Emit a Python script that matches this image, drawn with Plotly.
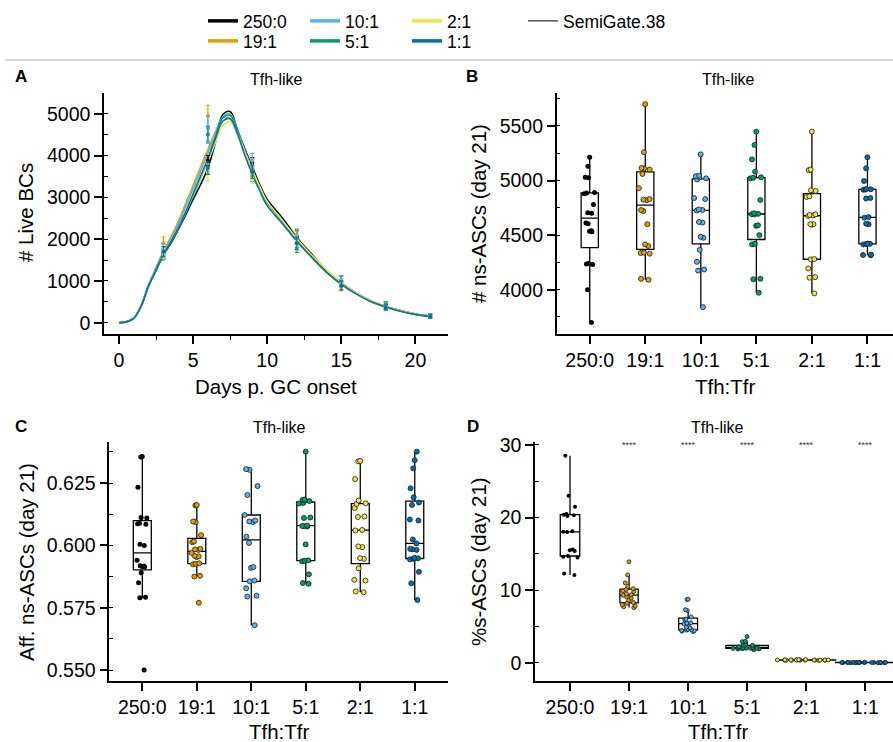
import plotly.graph_objects as go

W, H = 893, 742
FONT = "Liberation Sans, Arial, sans-serif"

# ---------------- data ----------------
conditions = ["250:0", "19:1", "10:1", "5:1", "2:1", "1:1"]
colors = ["#000000", "#E69F00", "#56B4E9", "#009E73", "#F0E442", "#0072B2"]

# Panel A: model curves (# live BCs vs days)
curve_days = [0, 0.5, 1, 1.5, 2, 2.5, 3, 3.5, 4, 4.5, 5, 5.5, 6, 6.5, 7, 7.5, 8, 8.5,
              9, 9.5, 10, 11, 12, 13, 14, 15, 16, 17, 18, 19, 20, 21]
curve_250_0 = [0, 20, 110, 400, 880, 1250, 1620, 1900, 2230, 2580, 2950, 3300, 3700, 4300, 4980, 5050,
               4600, 4150, 3720, 3300, 2950, 2520, 2040, 1640, 1250, 960, 710, 520, 390, 290, 210, 160]
curve_19_1 = [0, 20, 110, 420, 920, 1320, 1720, 2050, 2420, 2850, 3280, 3720, 4150, 4560, 4900, 4880,
              4500, 4050, 3620, 3220, 2880, 2420, 1960, 1560, 1200, 920, 690, 500, 370, 270, 200, 150]
curve_10_1 = [0, 20, 110, 410, 900, 1300, 1700, 2000, 2350, 2780, 3200, 3620, 4050, 4500, 4920, 5000,
              4600, 4100, 3650, 3250, 2880, 2440, 1990, 1590, 1230, 940, 700, 510, 380, 280, 205, 155]
curve_5_1 = [0, 20, 105, 400, 880, 1260, 1630, 1920, 2250, 2620, 3020, 3450, 3900, 4420, 4900, 4960,
             4580, 4100, 3650, 3240, 2880, 2450, 2000, 1610, 1250, 950, 710, 520, 385, 285, 205, 155]
curve_2_1 = [0, 20, 105, 400, 880, 1270, 1650, 1950, 2280, 2650, 3050, 3450, 3850, 4300, 4720, 4800,
             4520, 4080, 3650, 3250, 2900, 2460, 2010, 1620, 1260, 960, 715, 525, 390, 290, 210, 160]
curve_1_1 = [0, 20, 105, 400, 880, 1260, 1640, 1940, 2270, 2650, 3080, 3500, 3920, 4400, 4820, 4880,
             4520, 4000, 3550, 3150, 2800, 2380, 1950, 1570, 1210, 920, 690, 505, 375, 275, 200, 150]

# Panel A: experimental-like points (mean +/- sd)
obs_days = [3, 6, 9, 12, 15, 18, 21]
obs_mean_250_0 = [1650, 3880, 3820, 2050, 1000, 420, 170]
obs_sd_250_0 = [120, 120, 130, 150, 120, 80, 40]
obs_mean_19_1 = [1900, 4950, 3700, 2100, 950, 380, 150]
obs_sd_19_1 = [150, 250, 150, 150, 100, 60, 40]
obs_mean_10_1 = [1750, 4650, 3900, 2050, 1000, 420, 170]
obs_sd_10_1 = [130, 300, 150, 180, 120, 80, 40]
obs_mean_5_1 = [1600, 4500, 3500, 1800, 900, 380, 160]
obs_sd_5_1 = [100, 200, 120, 120, 100, 70, 40]
obs_mean_2_1 = [1650, 3600, 3450, 1850, 850, 350, 150]
obs_sd_2_1 = [120, 200, 120, 120, 100, 60, 40]
obs_mean_1_1 = [1700, 3700, 3600, 1900, 880, 360, 150]
obs_sd_1_1 = [120, 150, 150, 150, 100, 60, 40]

# Panel B: # ns-ASCs (day 21)
b_250_0 = [3700, 4000, 4230, 4235, 4240, 4530, 4535, 4540, 4605, 4610, 4700, 4705, 4780, 4880, 4885, 4890, 5025, 5030, 5130, 5213]
b_19_1 = [4090, 4100, 4330, 4335, 4340, 4400, 4415, 4600, 4720, 4730, 4820, 4825, 4830, 4930, 5060, 5100, 5110, 5115, 5260, 5700]
b_10_1 = [3840, 4175, 4185, 4255, 4365, 4475, 4485, 4615, 4620, 4725, 4730, 4735, 4830, 4840, 5010, 5020, 5030, 5040, 5045, 5240]
b_5_1 = [3972, 4095, 4100, 4415, 4420, 4500, 4585, 4590, 4690, 4692, 4695, 4700, 4822, 5020, 5025, 5030, 5081, 5194, 5326, 5448]
b_2_1 = [3966, 4110, 4115, 4195, 4278, 4280, 4595, 4600, 4600, 4675, 4680, 4685, 4690, 4850, 4855, 4905, 4910, 5095, 5100, 5448]
b_1_1 = [4315, 4318, 4322, 4415, 4418, 4420, 4422, 4600, 4605, 4660, 4665, 4835, 4840, 4915, 4918, 4920, 4922, 4996, 5112, 5213]

# Panel C: Aff. ns-ASCs (day 21)
c_250_0 = [0.550, 0.579, 0.5792, 0.585, 0.589, 0.5914, 0.5915, 0.5916, 0.5918, 0.594, 0.600, 0.6005, 0.6085, 0.6087, 0.6089, 0.611, 0.6112, 0.6233, 0.6355, 0.6357]
c_19_1 = [0.577, 0.5875, 0.5878, 0.5924, 0.5926, 0.5928, 0.5953, 0.5956, 0.5958, 0.5970, 0.5982, 0.5984, 0.5986, 0.6013, 0.6016, 0.6041, 0.6094, 0.6096, 0.6160, 0.6162]
c_10_1 = [0.568, 0.5795, 0.5798, 0.5828, 0.5856, 0.5859, 0.5910, 0.5913, 0.601, 0.6035, 0.6094, 0.6096, 0.6100, 0.6122, 0.6202, 0.6238, 0.6303, 0.6306]
c_5_1 = [0.5846, 0.5849, 0.5884, 0.5936, 0.5938, 0.5940, 0.6004, 0.6076, 0.6077, 0.6078, 0.6080, 0.6110, 0.6112, 0.6168, 0.6170, 0.6178, 0.6180, 0.6182, 0.6184, 0.6376]
c_2_1 = [0.5812, 0.5815, 0.5859, 0.5862, 0.5908, 0.5946, 0.5949, 0.5993, 0.5996, 0.6060, 0.6062, 0.6114, 0.6116, 0.6150, 0.6166, 0.6169, 0.6180, 0.6266, 0.6337, 0.6339]
c_1_1 = [0.5781, 0.5848, 0.5894, 0.5944, 0.5946, 0.5948, 0.5950, 0.5982, 0.5984, 0.5986, 0.6008, 0.6024, 0.6100, 0.6104, 0.6162, 0.6172, 0.6193, 0.6229, 0.6309, 0.6342, 0.6376]

# Panel D: %s-ASCs (day 21)
d_250_0 = [28.5, 23.0, 21.5, 20.5, 20.4, 20.3, 20.2, 18.1, 18.05, 18.0, 15.6, 15.5, 15.4, 14.7, 14.6, 14.5, 12.3, 12.1]
d_19_1 = [13.9, 12.1, 11.0, 10.5, 10.2, 10.1, 9.9, 9.8, 9.5, 9.35, 9.3, 9.1, 8.9, 8.6, 8.3, 8.2, 8.0, 7.8, 7.7, 7.6]
d_10_1 = [8.75, 8.7, 7.3, 7.2, 6.3, 6.0, 5.9, 5.5, 5.45, 5.4, 5.35, 4.9, 4.8, 4.6, 4.55, 4.5, 4.45, 4.4, 4.35, 4.3]
d_5_1 = [3.6, 2.95, 2.9, 2.45, 2.4, 2.4, 2.2, 2.1, 2.05, 2.0, 2.0, 2.0, 2.0, 2.0, 2.0, 1.95, 1.95, 1.9, 1.9, 1.8]
d_2_1 = [0.42, 0.41, 0.40, 0.40, 0.39, 0.39, 0.38, 0.38, 0.38, 0.37, 0.37, 0.37, 0.36, 0.36, 0.35, 0.35, 0.34, 0.34, 0.33, 0.32]
d_1_1 = [0.06, 0.05, 0.05, 0.04, 0.04, 0.04, 0.03, 0.03, 0.03, 0.03, 0.02, 0.02, 0.02, 0.02, 0.01, 0.01, 0.01, 0.01, 0.0, 0.0]
significance = ["", "****", "****", "****", "****", "****"]

panel_titles = ["Tfh-like", "Tfh-like", "Tfh-like", "Tfh-like"]
panel_letters = ["A", "B", "C", "D"]

# ---------------- figure ----------------
fig = go.Figure()

curves = [curve_250_0, curve_19_1, curve_10_1, curve_5_1, curve_2_1, curve_1_1]
obs_means = [obs_mean_250_0, obs_mean_19_1, obs_mean_10_1, obs_mean_5_1, obs_mean_2_1, obs_mean_1_1]
obs_sds = [obs_sd_250_0, obs_sd_19_1, obs_sd_10_1, obs_sd_5_1, obs_sd_2_1, obs_sd_1_1]

for cond, col, cy in zip(conditions, colors, curves):
    fig.add_trace(go.Scatter(x=curve_days, y=cy, mode="lines", line=dict(color=col, width=1.6, shape="spline", smoothing=1.0),
                             showlegend=False, xaxis="x", yaxis="y", name=cond))
for cond, col, m, s in zip(conditions, colors, obs_means, obs_sds):
    fig.add_trace(go.Scatter(x=obs_days, y=m, mode="markers", marker=dict(color=col, size=4),
                             error_y=dict(type="data", array=s, visible=True, color=col, thickness=1.2, width=2),
                             showlegend=False, xaxis="x", yaxis="y", name=cond))

# legend entries (row 1, row 2, SemiGate)
legend_of = {"250:0": "legend", "10:1": "legend", "2:1": "legend",
             "19:1": "legend2", "5:1": "legend2", "1:1": "legend2"}
for cond, col in zip(conditions, colors):
    fig.add_trace(go.Scatter(x=[None], y=[None], mode="lines", line=dict(color=col, width=3.5),
                             name=cond, legend=legend_of[cond], showlegend=True, xaxis="x", yaxis="y"))
fig.add_trace(go.Scatter(x=[None], y=[None], mode="lines", line=dict(color="black", width=1),
                         name="SemiGate.38", legend="legend3", showlegend=True, xaxis="x", yaxis="y"))

def add_boxes(groups, xa, ya, widths, msize, jitter):
    for cond, col, vals, w in zip(conditions, colors, groups, widths):
        mline = dict(color="#1a1a1a", width=0.8) if cond != "250:0" else dict(color="black", width=0)
        fig.add_trace(go.Box(x=[cond] * len(vals), y=vals, xaxis=xa, yaxis=ya, width=w,
                             boxpoints="all", jitter=jitter, pointpos=0, whiskerwidth=0,
                             fillcolor="white", line=dict(color="black", width=1.3),
                             marker=dict(color=col, size=msize, line=mline),
                             showlegend=False, name=cond))

add_boxes([b_250_0, b_19_1, b_10_1, b_5_1, b_2_1, b_1_1], "x2", "y2", [0.31] * 6, 5, 0.8)
add_boxes([c_250_0, c_19_1, c_10_1, c_5_1, c_2_1, c_1_1], "x3", "y3", [0.33] * 6, 5, 0.8)
add_boxes([d_250_0, d_19_1, d_10_1, d_5_1, d_2_1, d_1_1], "x4", "y4", [0.33, 0.31, 0.32, 0.72, 1.0, 1.0], 4, 1.0)

# ---------------- layout ----------------
def px_x(p):
    return p / W

def px_y(p):
    return 1 - p / H

axis_common = dict(showline=True, linecolor="black", linewidth=1.5, ticks="outside", ticklen=8,
                   tickwidth=1.5, tickcolor="black", showgrid=False, zeroline=False,
                   tickfont=dict(family=FONT, size=19.5, color="black"))

top_dom = [px_y(334), px_y(93)]
bot_dom = [px_y(681), px_y(441.7)]

legend_font = dict(family=FONT, size=17.5, color="black")

fig.update_layout(
    width=W, height=H, autosize=False,
    margin=dict(l=0, r=0, t=0, b=0, pad=0, autoexpand=False),
    paper_bgcolor="white", plot_bgcolor="white",
    font=dict(family=FONT, color="black"),
    boxmode="overlay",
    xaxis=dict(domain=[px_x(104), px_x(448)], anchor="y", range=[-1.01, 22.2], tickvals=[0, 5, 10, 15, 20],
               minor=dict(dtick=2.5, tick0=0, ticks="outside", ticklen=4, tickcolor="black", tickwidth=1.2),
               **axis_common),
    yaxis=dict(domain=top_dom, anchor="x", range=[-270, 5495], tickvals=[0, 1000, 2000, 3000, 4000, 5000],
               tickformat="d",
               minor=dict(dtick=500, tick0=0, ticks="inside", ticklen=4, tickcolor="black", tickwidth=1.2),
               **axis_common),
    xaxis2=dict(domain=[px_x(556.7), 1], anchor="y2", type="category", categoryorder="array",
                categoryarray=conditions, range=[-0.595, 5.46], **axis_common),
    yaxis2=dict(domain=top_dom, anchor="x2", range=[3594, 5802], tickvals=[4000, 4500, 5000, 5500], tickformat="d",
                minor=dict(dtick=250, tick0=0, ticks="inside", ticklen=4, tickcolor="black", tickwidth=1.2),
                **axis_common),
    xaxis3=dict(domain=[px_x(109.3), px_x(448)], anchor="y3", type="category", categoryorder="array",
                categoryarray=conditions, range=[-0.606, 5.61], **axis_common),
    yaxis3=dict(domain=bot_dom, anchor="x3", range=[0.5456, 0.6416], tickvals=[0.55, 0.575, 0.6, 0.625],
                tickformat=".3f",
                minor=dict(dtick=0.0125, tick0=0.55, ticks="inside", ticklen=4, tickcolor="black", tickwidth=1.2),
                **axis_common),
    xaxis4=dict(domain=[px_x(535), 1], anchor="y4", type="category", categoryorder="array",
                categoryarray=conditions, range=[-0.593, 5.47], **axis_common),
    yaxis4=dict(domain=bot_dom, anchor="x4", range=[-2.52, 30.45], tickvals=[0, 10, 20, 30],
                minor=dict(dtick=5, tick0=0, ticks="inside", ticklen=4, tickcolor="black", tickwidth=1.2),
                **axis_common),
    legend=dict(orientation="h", x=px_x(203), y=px_y(21), xanchor="left", yanchor="middle",
                entrywidth=57, entrywidthmode="pixels", font=legend_font,
                bgcolor="rgba(0,0,0,0)", borderwidth=0, itemwidth=30),
    legend2=dict(orientation="h", x=px_x(203), y=px_y(41), xanchor="left", yanchor="middle",
                 entrywidth=57, entrywidthmode="pixels", font=legend_font,
                 bgcolor="rgba(0,0,0,0)", borderwidth=0, itemwidth=30),
    legend3=dict(orientation="h", x=px_x(523), y=px_y(21), xanchor="left", yanchor="middle",
                 font=legend_font, bgcolor="rgba(0,0,0,0)", borderwidth=0, itemwidth=30),
    showlegend=True,
)

# separator line under the legend
fig.add_shape(type="line", xref="paper", yref="paper", x0=px_x(5), x1=1, y0=px_y(60), y1=px_y(60),
              line=dict(color="#c8c8c8", width=1.5))

ann = []
# panel titles & letters
title_pos = [(276, 79), (728, 79), (279, 427), (717, 427)]
letter_pos = [(21, 77), (472, 77), (21, 426), (473, 426)]
for t, (x, y) in zip(panel_titles, title_pos):
    ann.append(dict(text=t, x=px_x(x), y=px_y(y), xref="paper", yref="paper", showarrow=False,
                    xanchor="center", yanchor="middle", font=dict(family=FONT, size=16, color="black")))
for t, (x, y) in zip(panel_letters, letter_pos):
    ann.append(dict(text="<b>%s</b>" % t, x=px_x(x), y=px_y(y), xref="paper", yref="paper", showarrow=False,
                    xanchor="center", yanchor="middle", font=dict(family=FONT, size=17, color="black")))

# axis titles
xtitles = [("Days p. GC onset", 276, 386), ("Tfh:Tfr", 725, 386), ("Tfh:Tfr", 279, 731), ("Tfh:Tfr", 718, 731)]
for t, x, y in xtitles:
    ann.append(dict(text=t, x=px_x(x), y=px_y(y), xref="paper", yref="paper", showarrow=False,
                    xanchor="center", yanchor="middle", font=dict(family=FONT, size=20.5, color="black")))
ytitles = [("# Live BCs", 26, 213), ("# ns-ASCs (day 21)", 479, 213),
           ("Aff. ns-ASCs (day 21)", 26, 562), ("%s-ASCs (day 21)", 478, 562)]
for t, x, y in ytitles:
    ann.append(dict(text=t, x=px_x(x), y=px_y(y), xref="paper", yref="paper", showarrow=False, textangle=-90,
                    xanchor="center", yanchor="middle", font=dict(family=FONT, size=20.5, color="black")))

# significance stars in panel D
for cond, s in zip(conditions, significance):
    if s:
        ann.append(dict(text=s, x=cond, y=30, xref="x4", yref="y4", showarrow=False,
                        xanchor="center", yanchor="middle", font=dict(family=FONT, size=9, color="#333333")))

fig.update_layout(annotations=ann)

fig.write_html("out.html")
